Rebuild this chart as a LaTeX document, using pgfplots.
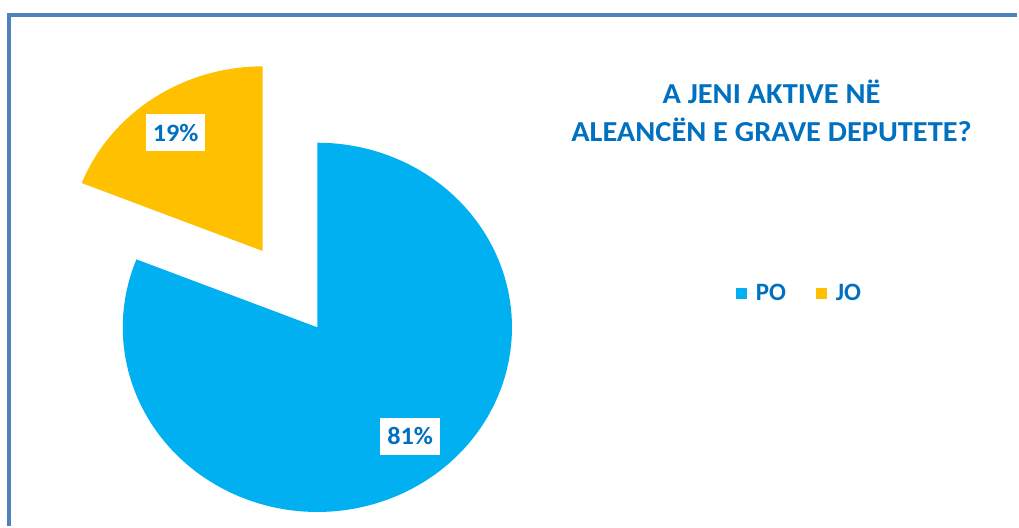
\documentclass[border=0pt]{standalone}
\usepackage{pgfplots}
\pgfplotsset{compat=1.18}
\usepackage{pgfplotstable}
\usepackage{graphicx}
\usepackage{fontspec}
\setmainfont{Carlito}
\definecolor{poblue}{HTML}{00B0F0}
\definecolor{jogold}{HTML}{FFC000}
\definecolor{txtblue}{HTML}{0070C0}
\definecolor{frameblue}{HTML}{4F81BD}
\pgfplotstableread{
name value
PO 81
JO 19
}\piedata
\pgfplotstablegetelem{0}{value}\of\piedata \let\vpo\pgfplotsretval
\pgfplotstablegetelem{1}{value}\of\piedata \let\vjo\pgfplotsretval
\pgfmathsetmacro{\aend}{90-3.6*\vpo}
\pgfmathsetmacro{\aendp}{\aend+360}
\pgfmathsetmacro{\amid}{90+1.8*\vjo}
\begin{document}
\begin{tikzpicture}
\begin{axis}[
  scale only axis, width=1019pt, height=527pt,
  xmin=0, xmax=1019, ymin=0, ymax=527,
  hide axis, clip=false,
  legend style={draw=none, fill=none, at={(axis cs:801,233)}, anchor=center,
    legend columns=2, font=\bfseries\fontsize{25}{28}\selectfont, text=txtblue,
    /tikz/every even column/.append style={column sep=28pt}},
  legend image code/.code={\fill[#1] (0pt,-5.5pt) rectangle (11pt,5.5pt);
    \path (0pt,0pt) -- (18pt,0pt);},
]
% page extent
\path (axis cs:0,0) rectangle (axis cs:1019,527);
% frame
\draw[frameblue, line width=4pt] (axis cs:9,0) -- (axis cs:9,512) -- (axis cs:1019,512);
% PO slice
\addplot[fill=poblue, draw=none, domain=\aend:90, samples=150, variable=\t]
  ({318+195*cos(t)}, {199+185*sin(t)}) -- (axis cs:318,199) -- cycle;
\addlegendentry{PO}
% JO slice (exploded)
\addplot[fill=jogold, draw=none, domain=90:\aendp, samples=60, variable=\t]
  ({318+0.5*195*cos(\amid)+195*cos(t)}, {199+0.5*185*sin(\amid)+185*sin(t)})
  -- (axis cs:{318+0.5*195*cos(\amid)},{199+0.5*185*sin(\amid)}) -- cycle;
\addlegendentry{JO}
% data labels
\node[fill=white, text=txtblue, font=\bfseries\fontsize{25}{28}\selectfont,
  inner xsep=7pt, minimum height=37pt]
  at (axis cs:176,394) {\scalebox{1.05}[1]{\vjo\%}};
\node[fill=white, text=txtblue, font=\bfseries\fontsize{25}{28}\selectfont,
  inner xsep=7pt, minimum height=37pt]
  at (axis cs:411,90) {\scalebox{1.05}[1]{\vpo\%}};
% title
\node[text=txtblue, align=center, font=\bfseries\fontsize{29}{38}\selectfont]
  at (axis cs:773,416) {\scalebox{1.05}[1]{A JENI AKTIVE NË}\\\scalebox{1.05}[1]{ALEANCËN E GRAVE DEPUTETE?}};
\end{axis}
\end{tikzpicture}
\end{document}
